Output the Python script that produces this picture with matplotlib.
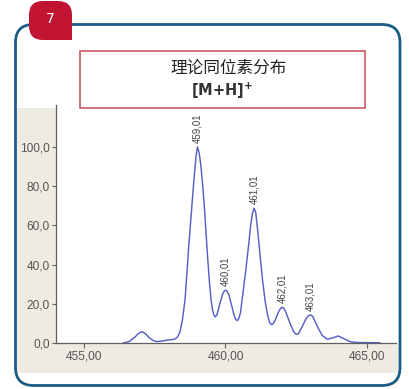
import matplotlib
matplotlib.use("Agg")
import matplotlib.pyplot as plt
import matplotlib.transforms as mtransforms
from matplotlib.patches import FancyBboxPatch, Rectangle

# Profile of the theoretical isotope pattern (m/z, relative intensity %)
mz = [456.39, 456.60, 456.80, 456.92, 457.04, 457.16, 457.30, 457.45, 457.57,
      457.75, 457.95, 458.20, 458.30, 458.39, 458.48, 458.57, 458.63, 458.69,
      458.75, 458.81, 458.87, 458.92, 458.96, 459.01, 459.06, 459.10, 459.14,
      459.20, 459.26, 459.32, 459.37, 459.43, 459.49, 459.54, 459.59, 459.64,
      459.69, 459.74, 459.80, 459.90, 459.96, 460.01, 460.06, 460.12, 460.22,
      460.30, 460.36, 460.42, 460.47, 460.53, 460.63, 460.72, 460.81, 460.89,
      460.95, 461.01, 461.07, 461.14, 461.22, 461.31, 461.40, 461.49, 461.56,
      461.63, 461.69, 461.76, 461.88, 461.95, 462.01, 462.07, 462.14, 462.28,
      462.40, 462.47, 462.54, 462.60, 462.68, 462.85, 462.93, 463.01, 463.08,
      463.15, 463.28, 463.42, 463.60, 463.78, 463.99, 464.18, 464.40, 464.60,
      464.87, 465.20, 465.46]
intensity = [0.0, 0.8, 3.0, 4.8, 5.8, 4.9, 2.8, 1.2, 0.7,
             1.0, 1.5, 1.9, 3.0, 5.5, 12.0, 22.0, 34.0, 47.0,
             58.5, 69.5, 80.5, 89.0, 95.5, 100.0, 97.5, 94.0, 89.0,
             79.5, 68.0, 54.5, 43.5, 31.5, 22.0, 17.0, 14.3, 13.3,
             14.2, 16.5, 20.0, 25.0, 26.6, 27.0, 26.4, 24.5, 19.0,
             14.3, 12.0, 11.4, 12.4, 15.5, 27.0, 37.5, 49.0, 60.0,
             66.0, 68.7, 66.5, 57.0, 45.0, 32.0, 21.5, 14.0, 10.4,
             9.3, 9.9, 11.8, 16.0, 17.7, 18.2, 17.6, 15.5, 10.0,
             6.0, 4.7, 4.4, 5.3, 7.5, 12.5, 13.9, 14.3, 13.6,
             11.5, 7.5, 3.8, 1.9, 2.6, 3.6, 2.2, 0.7, 0.3,
             0.2, 0.2, 0.1]

# Labelled isotope peaks
peak_mz = [459.01, 460.01, 461.01, 462.01, 463.01]
peak_labels = ["459,01", "460,01", "461,01", "462,01", "463,01"]

x_ticks = [455, 460, 465]
x_tick_labels = ["455,00", "460,00", "465,00"]
y_ticks = [0, 20, 40, 60, 80, 100]
y_tick_labels = ["0,0", "20,0", "40,0", "60,0", "80,0", "100,0"]

title_cn = "理论同位素分布"
title_ion = r"$\mathbf{[M{+}H]^{+}}$"
badge = "7"

W, H = 409, 389
fig = plt.figure(figsize=(W / 100, H / 100), dpi=100)
fig.patch.set_facecolor("white")

# pixel coordinates (origin top-left) for decoration
px = mtransforms.Affine2D().scale(1 / W, -1 / H).translate(0, 1) + fig.transFigure

beige = "#eeebe2"
fig.patches.append(Rectangle((17, 108), 39, 265, transform=px,
                             facecolor=beige, edgecolor="none", zorder=-2))
fig.patches.append(Rectangle((17, 344), 381, 29, transform=px,
                             facecolor=beige, edgecolor="none", zorder=-2))

# outer rounded frame
fig.patches.append(FancyBboxPatch((15.5, 24.5), 384.5, 361,
                                  boxstyle="round,pad=0,rounding_size=18",
                                  transform=px, facecolor="none",
                                  edgecolor="#1b5c85", linewidth=2.0, zorder=5))

# number badge
badge_col = "#c01432"
fig.patches.append(FancyBboxPatch((29, 1), 43, 39,
                                  boxstyle="round,pad=0,rounding_size=14",
                                  transform=px, facecolor=badge_col,
                                  edgecolor="none", zorder=6))
fig.patches.append(Rectangle((56, 24), 16, 16, transform=px,
                             facecolor=badge_col, edgecolor="none", zorder=6))
fig.text(50 / W, 1 - 19 / H, badge, color="white", fontsize=10,
         ha="center", va="center", family="DejaVu Sans", zorder=7)

# title box
fig.patches.append(Rectangle((80, 51), 285, 57, transform=px,
                             facecolor="white", edgecolor="#c94a55",
                             linewidth=1.1, zorder=3))
fig.text(229 / W, 1 - 68 / H, title_cn, fontsize=12, color="#222222",
         ha="center", va="center", family=["Noto Sans CJK SC", "DejaVu Sans"],
         zorder=4)
fig.text(222 / W, 1 - 91 / H, title_ion, fontsize=10.5, color="#333333",
         ha="center", va="center", zorder=4)

# spectrum axes
ax = fig.add_axes([56 / W, 1 - 343 / H, (396 - 56) / W, (343 - 105) / H])
ax.set_zorder(1)
ax.set_facecolor("none")
ax.plot(mz, intensity, color="#5760c6", linewidth=1.05, solid_joinstyle="round")
ax.set_xlim(454.011, 466.025)
ax.set_ylim(0, 121.4)

for s in ("top", "right"):
    ax.spines[s].set_visible(False)
for s in ("left", "bottom"):
    ax.spines[s].set_color("#606060")
    ax.spines[s].set_linewidth(0.9)

ax.set_xticks(x_ticks)
ax.set_xticklabels(x_tick_labels)
ax.set_yticks(y_ticks)
ax.set_yticklabels(y_tick_labels)
ax.tick_params(axis="both", direction="out", color="#606060", width=0.8,
               labelcolor="#555555")
ax.tick_params(axis="y", length=3, pad=1.5, labelsize=8.6)
ax.tick_params(axis="x", length=3.5, pad=2, labelsize=8.6)
for lab in ax.get_xticklabels() + ax.get_yticklabels():
    lab.set_family("Liberation Sans")

for m, lab in zip(peak_mz, peak_labels):
    i = min(range(len(mz)), key=lambda k: abs(mz[k] - m))
    ax.annotate(lab, (mz[i], intensity[i]), xytext=(0, 3),
                textcoords="offset points", rotation=90, ha="center",
                va="bottom", fontsize=7, color="#444444",
                family="Liberation Sans", annotation_clip=False)

fig.savefig("out.png", dpi=100)
